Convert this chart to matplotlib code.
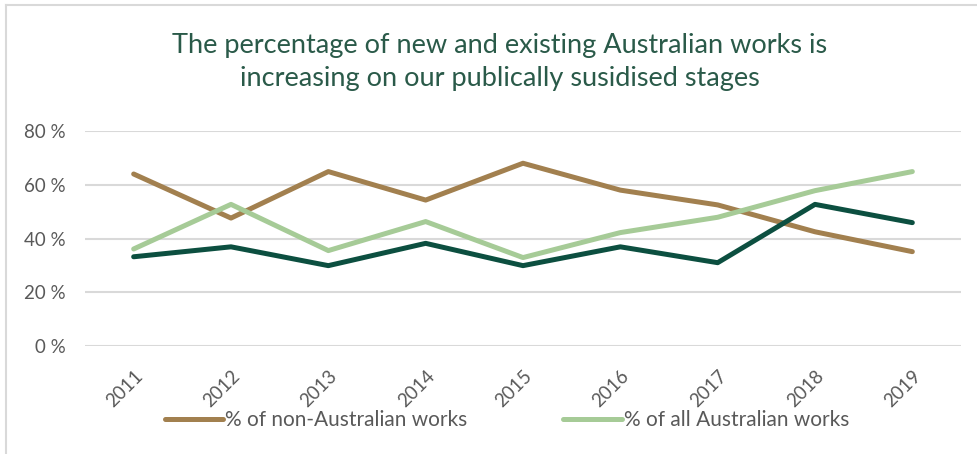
import matplotlib.pyplot as plt
from matplotlib.lines import Line2D

plt.rcParams["font.family"] = ["Lato", "DejaVu Sans"]

# Data (percent)
years = ["2011", "2012", "2013", "2014", "2015", "2016", "2017", "2018", "2019"]
non_australian = [64.0, 47.6, 64.9, 54.3, 68.0, 58.0, 52.5, 42.5, 35.1]
new_australian = [33.2, 36.9, 29.9, 38.2, 29.9, 36.9, 31.0, 52.7, 45.9]
all_australian = [36.1, 52.7, 35.5, 46.3, 32.9, 42.2, 47.9, 57.8, 64.9]
y_ticks = [0, 20, 40, 60, 80]

BROWN = "#A2804F"
LIGHT_GREEN = "#A6CB97"
DARK_GREEN = "#0C4F40"
TITLE_COLOR = "#2A5A49"
TEXT_GRAY = "#595959"
GRID_GRAY = "#D9D9D9"

fig = plt.figure(figsize=(9.77, 4.54), dpi=100)
ax = fig.add_axes([85 / 977, 1 - 346 / 454, (961 - 85) / 977, (346 - 131) / 454])

x = range(len(years))
ax.plot(x, non_australian, color=BROWN, lw=3.6, solid_capstyle="round",
        label="% of non-Australian works", zorder=3)
ax.plot(x, all_australian, color=LIGHT_GREEN, lw=3.6, solid_capstyle="round",
        label="% of all Australian works", zorder=3)
ax.plot(x, new_australian, color=DARK_GREEN, lw=3.6, solid_capstyle="round",
        label="_nolegend_", zorder=4)

ax.set_xlim(-0.5, len(years) - 0.5)
ax.set_ylim(0, 80)
ax.set_yticks(y_ticks)
ax.set_yticklabels([f"{v} %" for v in y_ticks])
ax.set_xticks(list(x))
ax.set_xticklabels(years, rotation=45, ha="right", va="top", rotation_mode="anchor")
ax.tick_params(axis="y", length=0, pad=14, labelsize=13.5, labelcolor=TEXT_GRAY)
ax.tick_params(axis="x", length=0, pad=15, labelsize=13.5, labelcolor=TEXT_GRAY)
ax.grid(axis="y", color=GRID_GRAY, lw=1.5)
ax.set_axisbelow(True)
for s in ax.spines.values():
    s.set_visible(False)

handles = [Line2D([], [], color=BROWN, lw=3.6, solid_capstyle="round"),
           Line2D([], [], color=LIGHT_GREEN, lw=3.6, solid_capstyle="round")]
fig.legend(handles, ["% of non-Australian works", "% of all Australian works"],
           loc="center", bbox_to_anchor=(507 / 977, 1 - 420 / 454), ncol=2,
           frameon=False, fontsize=15, labelcolor=TEXT_GRAY,
           handlelength=2.8, handletextpad=0.1, columnspacing=4.6)

fig.text(500 / 977, 1 - 62 / 454,
         "The percentage of new and existing Australian works is\n"
         "increasing on our publically susidised stages",
         ha="center", va="center", fontsize=19.5, color=TITLE_COLOR,
         linespacing=1.4)

# light frame on top and left, as in the source screenshot
fig.add_artist(Line2D([6 / 977, 1], [1 - 5 / 454, 1 - 5 / 454],
                      transform=fig.transFigure, color=GRID_GRAY, lw=1.5))
fig.add_artist(Line2D([6 / 977, 6 / 977], [0, 1 - 5 / 454],
                      transform=fig.transFigure, color=GRID_GRAY, lw=1.5))

fig.savefig("out.png", dpi=100)
